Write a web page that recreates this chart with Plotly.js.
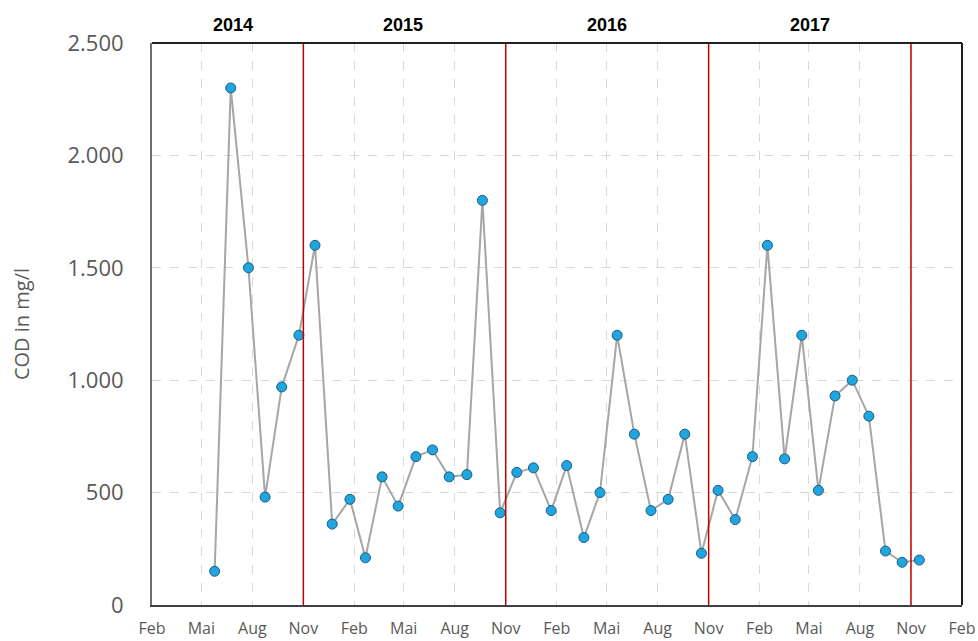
<!DOCTYPE html>
<html>
<head>
<meta charset="utf-8">
<script src="https://cdn.plot.ly/plotly-3.0.1.min.js"></script>
<style>html,body{margin:0;padding:0;background:#fff;}#chart{width:978px;height:641px;}</style>
</head>
<body>
<div id="chart"></div>
<script>
// Sampling dates
const sampleDates = [
  '2014-05-25','2014-06-23','2014-07-25','2014-08-24','2014-09-23','2014-10-24','2014-11-22','2014-12-23',
  '2015-01-24','2015-02-21','2015-03-23','2015-04-21','2015-05-23','2015-06-22','2015-07-22','2015-08-23',
  '2015-09-20','2015-10-22','2015-11-21','2015-12-21',
  '2016-01-22','2016-02-19','2016-03-21','2016-04-19','2016-05-20','2016-06-20','2016-07-20','2016-08-20',
  '2016-09-19','2016-10-19','2016-11-18','2016-12-19',
  '2017-01-19','2017-02-15','2017-03-18','2017-04-18','2017-05-18','2017-06-17','2017-07-18','2017-08-17',
  '2017-09-16','2017-10-16','2017-11-16'
];
// COD values in mg/l
const codValues = [
  150, 2300, 1500, 480, 970, 1200, 1600, 360,
  470, 210, 570, 440, 660, 690, 570, 580,
  1800, 410, 590, 610,
  420, 620, 300, 500, 1200, 760, 420, 470,
  760, 230, 510, 380,
  660, 1600, 650, 1200, 510, 930, 1000, 840,
  240, 190, 200
];
// X tick positions and labels
const xTickVals = [
  '2014-02-01','2014-05-01','2014-08-01','2014-11-01',
  '2015-02-01','2015-05-01','2015-08-01','2015-11-01',
  '2016-02-01','2016-05-01','2016-08-01','2016-11-01',
  '2017-02-01','2017-05-01','2017-08-01','2017-11-01',
  '2018-02-01'
];
const xTickText = ['Feb','Mai','Aug','Nov','Feb','Mai','Aug','Nov','Feb','Mai','Aug','Nov','Feb','Mai','Aug','Nov','Feb'];
// Y ticks
const yTickVals = [0, 500, 1000, 1500, 2000, 2500];
const yTickText = ['0', '500', '1.000', '1.500', '2.000', '2.500'];
// Year boundaries (red lines) and year labels
const yearBoundaries = ['2014-11-01','2015-11-01','2016-11-01','2017-11-01'];
const yearLabels = ['2014','2015','2016','2017'];
const yearLabelPos = ['2014-06-27','2015-04-29','2016-05-01','2017-05-02'];

const trace = {
  x: sampleDates,
  y: codValues,
  type: 'scatter',
  mode: 'lines+markers',
  line: {color: '#a6a6a6', width: 2},
  marker: {color: '#1fa6de', size: 10, line: {color: '#1f5a85', width: 1}},
  hoverinfo: 'x+y'
};

const shapes = yearBoundaries.map(d => ({
  type: 'line', xref: 'x', yref: 'paper', x0: d, x1: d, y0: 0, y1: 1,
  line: {color: '#c00000', width: 1.5}, layer: 'above'
}));
shapes.push({type: 'line', xref: 'paper', yref: 'paper', x0: 1, x1: 1, y0: 0, y1: 1, line: {color: '#202020', width: 2}});
shapes.push({type: 'line', xref: 'paper', yref: 'paper', x0: 0, x1: 1, y0: 1, y1: 1, line: {color: '#202020', width: 2}});

const annotations = yearLabels.map((t, i) => ({
  x: yearLabelPos[i], xref: 'x', y: 1, yref: 'paper', yanchor: 'bottom', yshift: 6,
  text: '<b>' + t + '</b>', showarrow: false,
  font: {family: 'Liberation Sans, Arial, sans-serif', size: 18, color: '#000'}
}));

const layout = {
  width: 978, height: 641,
  margin: {l: 152, r: 16, t: 43, b: 36},
  paper_bgcolor: '#fff', plot_bgcolor: '#fff',
  showlegend: false,
  font: {family: 'Open Sans, sans-serif', color: '#595959'},
  xaxis: {
    type: 'date',
    range: ['2014-02-01', '2018-02-01'],
    tickvals: xTickVals, ticktext: xTickText,
    tickfont: {size: 16, color: '#595959'},
    showgrid: true, gridcolor: '#d9d9d9', griddash: 'dash', gridwidth: 1,
    showline: true, linecolor: '#404040', linewidth: 2,
    ticks: '', ticklabelstandoff: 8,
    zeroline: false, fixedrange: true
  },
  yaxis: {
    range: [0, 2500],
    tickvals: yTickVals, ticktext: yTickText,
    tickfont: {size: 22, color: '#595959'},
    showgrid: true, gridcolor: '#d9d9d9', griddash: 'dash', gridwidth: 1,
    showline: true, linecolor: '#6e6e6e', linewidth: 2,
    ticks: '', ticklabelstandoff: 22,
    zeroline: false,
    title: {text: 'COD in mg/l', font: {size: 20, color: '#595959'}, standoff: 32},
    fixedrange: true
  },
  shapes: shapes,
  annotations: annotations
};

Plotly.newPlot('chart', [trace], layout, {displayModeBar: false, staticPlot: true});
</script>
</body>
</html>
